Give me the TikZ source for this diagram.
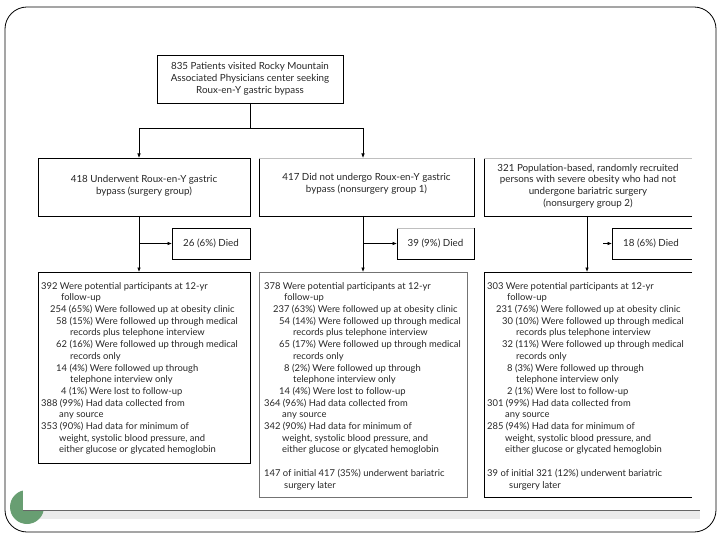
\documentclass[tikz,border=0pt]{standalone}
\usepackage{fontspec}
\setmainfont{Lato}
\usetikzlibrary{arrows.meta}
\definecolor{slidegreen}{RGB}{104,158,114}
\begin{document}
\begin{tikzpicture}[x=1pt,y=-1pt,
  ln/.style={line width=0.7pt, draw=black},
  arr/.style={line width=0.7pt, draw=black, -{Latex[length=4.5pt,width=3.6pt]}},
  plain/.style={inner sep=0pt, outer sep=0pt},
  boxed/.style={plain, draw=black, line width=0.7pt},
  ctxt/.style={font=\fontsize{9.8}{11.8}\selectfont, text=black!85, align=center, inner sep=0pt},
  ltxt/.style={font=\fontsize{9.4}{11.7}\selectfont, text=black!85, align=left, inner sep=0pt, anchor=north west}
]
\useasboundingbox (0,0) rectangle (720,540);

% slide frame
\draw[line width=0.8pt, rounded corners=22pt] (5,7) rectangle (716,532);
\fill[black!8] (23,511) rectangle (700,519);
\fill[slidegreen] (27,507) circle[radius=17pt];
\fill[white] (23,488) rectangle (46,510);
\draw[line width=0.9pt, black!60] (23,510.5) -- (700,510.5);

% top box
\node[boxed, minimum width=186, minimum height=48] (top) at (250,79) {};
\node[ctxt] (toptxt) at (top.center) {835 Patients visited Rocky Mountain\\Associated Physicians center seeking\\Roux-en-Y gastric bypass};

% level 2 boxes
\node[boxed, minimum width=212, minimum height=58] (L1) at (144,187) {};
\node[ctxt] (L1txt) at (144,186) {418 Underwent Roux-en-Y gastric\\bypass (surgery group)};

\node[plain, minimum width=215, minimum height=58] (M1) at (366.5,187) {};
\draw[ln] (M1.north west) -- (M1.south west) -- (M1.south east) -- (M1.north east);
\draw[line width=0.6pt, black!25] (M1.north west) -- (M1.north east);
\node[ctxt] (M1txt) at (366.5,184) {417 Did not undergo Roux-en-Y gastric\\bypass (nonsurgery group 1)};

\node[plain, minimum width=208, minimum height=58] (R1) at (588,187) {};
\draw[ln] (R1.south east) -- (R1.south west) -- (R1.north west);
\draw[line width=0.6pt, black!25] (R1.north west) -- (R1.north east);
\node[ctxt] (R1txt) at (588,186) {321 Population-based, randomly recruited\\persons with severe obesity who had not\\undergone bariatric surgery\\(nonsurgery group 2)};

% died boxes
\node[boxed, minimum width=78, minimum height=31] (D1) at (211,243.5) {};
\node[ctxt] (D1txt) at (D1.center) {26 (6\%) Died};
\node[plain, minimum width=77, minimum height=31] (D2) at (435.5,243.5) {};
\draw[ln] (D2.north west) -- (D2.south west) -- (D2.south east) -- (D2.north east);
\draw[line width=0.6pt, black!25] (D2.north west) -- (D2.north east);
\node[ctxt] (D2txt) at (D2.center) {39 (9\%) Died};
\node[plain, minimum width=80, minimum height=31] (D3) at (652,243.5) {};
\draw[ln] (D3.north east) -- (D3.north west) -- (D3.south west) -- (D3.south east);
\node[ctxt] (D3txt) at (651,243.5) {18 (6\%) Died};

% lower boxes
\node[boxed, minimum width=212, minimum height=191] (L2) at (144,367.5) {};
\node[boxed, draw=black!55, minimum width=208, minimum height=225] (M2) at (363,384.5) {};
\node[plain, minimum width=208, minimum height=225] (R2) at (588,384.5) {};
\draw[ln] (R2.north east) -- (R2.north west) -- (R2.south west) -- (R2.south east);

\node[ltxt] (L2txt) at (41,282) {%
392 Were potential participants at 12-yr\\
\hspace*{20pt}follow-up\\
\hspace*{9pt}254 (65\%) Were followed up at obesity clinic\\
\hspace*{15pt}58 (15\%) Were followed up through medical\\
\hspace*{29pt}records plus telephone interview\\
\hspace*{15pt}62 (16\%) Were followed up through medical\\
\hspace*{29pt}records only\\
\hspace*{15pt}14 (4\%) Were followed up through\\
\hspace*{29pt}telephone interview only\\
\hspace*{20pt}4 (1\%) Were lost to follow-up\\
388 (99\%) Had data collected from\\
\hspace*{18pt}any source\\
353 (90\%) Had data for minimum of\\
\hspace*{18pt}weight, systolic blood pressure, and\\
\hspace*{18pt}either glucose or glycated hemoglobin};

\node[ltxt] (M2txt) at (264,282) {%
378 Were potential participants at 12-yr\\
\hspace*{20pt}follow-up\\
\hspace*{9pt}237 (63\%) Were followed up at obesity clinic\\
\hspace*{15pt}54 (14\%) Were followed up through medical\\
\hspace*{29pt}records plus telephone interview\\
\hspace*{15pt}65 (17\%) Were followed up through medical\\
\hspace*{29pt}records only\\
\hspace*{20pt}8 (2\%) Were followed up through\\
\hspace*{29pt}telephone interview only\\
\hspace*{15pt}14 (4\%) Were lost to follow-up\\
364 (96\%) Had data collected from\\
\hspace*{18pt}any source\\
342 (90\%) Had data for minimum of\\
\hspace*{18pt}weight, systolic blood pressure, and\\
\hspace*{18pt}either glucose or glycated hemoglobin\\[11.7pt]
147 of initial 417 (35\%) underwent bariatric\\
\hspace*{20pt}surgery later};

\node[ltxt] (R2txt) at (487,282) {%
303 Were potential participants at 12-yr\\
\hspace*{20pt}follow-up\\
\hspace*{9pt}231 (76\%) Were followed up at obesity clinic\\
\hspace*{15pt}30 (10\%) Were followed up through medical\\
\hspace*{29pt}records plus telephone interview\\
\hspace*{15pt}32 (11\%) Were followed up through medical\\
\hspace*{29pt}records only\\
\hspace*{20pt}8 (3\%) Were followed up through\\
\hspace*{29pt}telephone interview only\\
\hspace*{20pt}2 (1\%) Were lost to follow-up\\
301 (99\%) Had data collected from\\
\hspace*{18pt}any source\\
285 (94\%) Had data for minimum of\\
\hspace*{18pt}weight, systolic blood pressure, and\\
\hspace*{18pt}either glucose or glycated hemoglobin\\[11.7pt]
39 of initial 321 (12\%) underwent bariatric\\
\hspace*{22pt}surgery later};

% connectors
\coordinate (j0) at (250,128);
\coordinate (jl) at (139,128);
\coordinate (jm) at (363,128);
\draw[ln] (top.south) -- (j0);
\draw[ln] (jl) -- (jm);
\draw[arr] (jl) -- (jl |- L1.north);
\draw[arr] (jm) -- (jm |- M1.north);

\draw[arr] (jl |- L1.south) -- (jl |- L2.north);
\draw[arr] (jl |- D1.west) -- (D1.west);
\draw[arr] (jm |- M1.south) -- (jm |- M2.north);
\draw[arr] (jm |- D2.west) -- (D2.west);
\coordinate (jr) at (587,216);
\draw[arr] (jr) -- (jr |- R2.north);
\coordinate (d3s) at (603,243.5);
\draw[arr] (d3s) -- (D3.west);
\end{tikzpicture}
\end{document}
